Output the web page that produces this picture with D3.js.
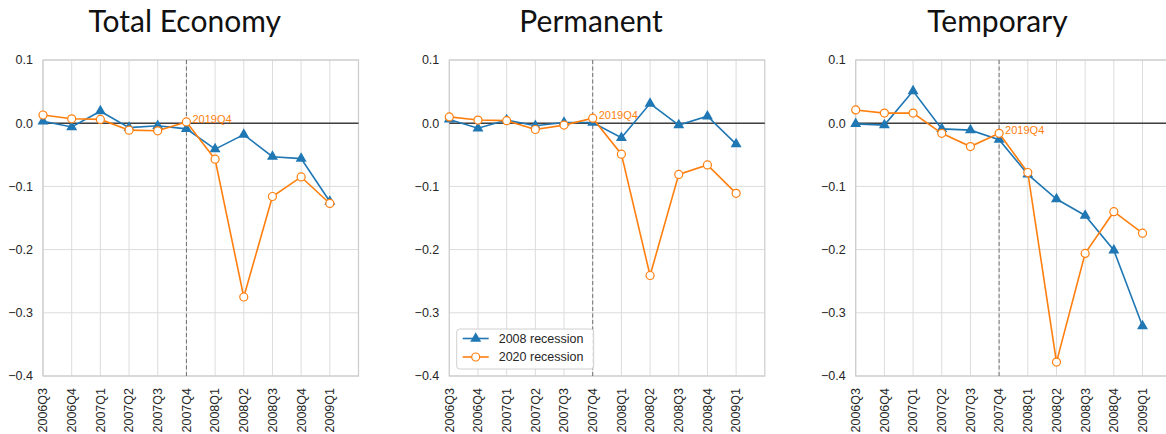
<!DOCTYPE html>
<html>
<head>
<meta charset="utf-8">
<script src="https://cdn.jsdelivr.net/npm/d3@7"></script>
<style>
  body { margin: 0; background: white; overflow: hidden; }
  text { font-family: "Liberation Sans", Arial, sans-serif; }
</style>
</head>
<body>
<div id="chart"></div>
<script>
// quarters on the x axis
const quarters = ["2006Q3", "2006Q4", "2007Q1", "2007Q2", "2007Q3", "2007Q4",
                  "2008Q1", "2008Q2", "2008Q3", "2008Q4", "2009Q1"];
const yTicks = [0.1, 0.0, -0.1, -0.2, -0.3, -0.4];
const titles = ["Total Economy", "Permanent", "Temporary"];
const seriesNames = ["2008 recession", "2020 recession"];

// 2008 recession (triangles)
const total2008 = [0.003, -0.006, 0.019, -0.007, -0.004, -0.009, -0.041, -0.018, -0.053, -0.056, -0.124];
const perm2008  = [0.006, -0.008, 0.005, -0.004, 0.001, 0.001, -0.023, 0.031, -0.003, 0.011, -0.033];
const temp2008  = [-0.001, -0.003, 0.051, -0.009, -0.011, -0.026, -0.081, -0.120, -0.146, -0.201, -0.321];

// 2020 recession (open circles)
const total2020 = [0.013, 0.007, 0.006, -0.011, -0.012, 0.002, -0.057, -0.275, -0.116, -0.085, -0.127];
const perm2020  = [0.010, 0.005, 0.004, -0.010, -0.003, 0.008, -0.049, -0.241, -0.081, -0.066, -0.111];
const temp2020  = [0.021, 0.016, 0.016, -0.016, -0.037, -0.016, -0.078, -0.378, -0.206, -0.140, -0.174];

const markIndex = 5;          // 2007Q4 <-> 2019Q4
const markLabel = "2019Q4";

const panels = [
  { title: titles[0], a: total2008, b: total2020 },
  { title: titles[1], a: perm2008, b: perm2020, legend: true },
  { title: titles[2], a: temp2008, b: temp2020 }
];

const blue = "#1f77b4", orange = "#ff7f0e";
const width = 1166, height = 434;
const svg = d3.select("#chart").append("svg")
    .attr("width", width).attr("height", height);

const pw = 315.5, plotTop = 60, plotBottom = 376;
const lefts = [43, 449.3, 855.7];

const x = d3.scaleLinear().domain([0, 11]).range([0, pw]);
const y = d3.scaleLinear().domain([-0.4, 0.1]).range([plotBottom - plotTop, 0]);

const tri = d3.symbol().type(d3.symbolTriangle).size(52);

panels.forEach((p, k) => {
  const g = svg.append("g").attr("transform", `translate(${lefts[k]},${plotTop})`);
  const h = plotBottom - plotTop;

  // grid
  g.selectAll(".vg").data(d3.range(quarters.length)).join("line")
      .attr("x1", d => x(d)).attr("x2", d => x(d))
      .attr("y1", 0).attr("y2", h)
      .attr("stroke", "#dcdcdc").attr("stroke-width", 1);
  g.selectAll(".hg").data(yTicks).join("line")
      .attr("x1", 0).attr("x2", pw)
      .attr("y1", d => y(d)).attr("y2", d => y(d))
      .attr("stroke", "#dcdcdc").attr("stroke-width", 1);
  g.append("rect").attr("width", pw).attr("height", h)
      .attr("fill", "none").attr("stroke", "#cccccc").attr("stroke-width", 1.2);

  // tick labels
  g.selectAll(".yt").data(yTicks).join("text")
      .attr("x", -10).attr("y", d => y(d)).attr("dy", "0.35em")
      .attr("text-anchor", "end").attr("font-size", 12.5).attr("fill", "#262626")
      .text(d => d3.format(".1f")(d).replace("-", "\u2212"));
  g.selectAll(".xt").data(quarters).join("text")
      .attr("transform", (d, i) => `translate(${x(i)},${h + 12}) rotate(-90)`)
      .attr("dy", "0.35em")
      .attr("text-anchor", "end").attr("font-size", 12.5).attr("fill", "#262626")
      .text(d => d);

  // reference lines
  g.append("line").attr("x1", 0).attr("x2", pw).attr("y1", y(0)).attr("y2", y(0))
      .attr("stroke", "#404040").attr("stroke-width", 1.6);
  g.append("line").attr("x1", x(markIndex)).attr("x2", x(markIndex))
      .attr("y1", 0).attr("y2", h)
      .attr("stroke", "#707070").attr("stroke-width", 1).attr("stroke-dasharray", "4,2.5");

  const line = d3.line().x((d, i) => x(i)).y(d => y(d));

  // 2008 series
  g.append("path").datum(p.a).attr("d", line)
      .attr("fill", "none").attr("stroke", blue).attr("stroke-width", 1.6);
  g.selectAll(".tri").data(p.a).join("path")
      .attr("d", tri)
      .attr("transform", (d, i) => `translate(${x(i)},${y(d)})`)
      .attr("fill", blue);

  // 2020 series
  g.append("path").datum(p.b).attr("d", line)
      .attr("fill", "none").attr("stroke", orange).attr("stroke-width", 1.6);
  g.selectAll(".circ").data(p.b).join("circle")
      .attr("cx", (d, i) => x(i)).attr("cy", d => y(d)).attr("r", 4)
      .attr("fill", "white").attr("stroke", orange).attr("stroke-width", 1.2);

  g.append("text")
      .attr("x", x(markIndex) + 6).attr("y", y(p.b[markIndex]) - 3).attr("dy", "0.35em")
      .attr("font-size", 11).attr("fill", orange)
      .text(markLabel);

  // title
  svg.append("text")
      .attr("x", lefts[k] + pw / 2 - 16).attr("y", 32)
      .attr("text-anchor", "middle")
      .attr("font-size", 30).attr("fill", "#111")
      .style("font-family", "Lato, sans-serif")
      .text(p.title);

  if (p.legend) {
    const lg = g.append("g").attr("transform", `translate(${456.7 - lefts[k]},${329 - plotTop})`);
    lg.append("rect").attr("width", 137).attr("height", 40).attr("rx", 3)
        .attr("fill", "white").attr("fill-opacity", 0.85)
        .attr("stroke", "#d0d0d0");
    seriesNames.forEach((name, j) => {
      const ry = 9.5 + j * 18.5;
      const col = j === 0 ? blue : orange;
      lg.append("line").attr("x1", 6).attr("x2", 32).attr("y1", ry).attr("y2", ry)
          .attr("stroke", col).attr("stroke-width", 1.6);
      if (j === 0) {
        lg.append("path").attr("d", tri).attr("transform", `translate(19,${ry})`).attr("fill", blue);
      } else {
        lg.append("circle").attr("cx", 19).attr("cy", ry).attr("r", 4)
            .attr("fill", "white").attr("stroke", orange).attr("stroke-width", 1.2);
      }
      lg.append("text").attr("x", 42).attr("y", ry).attr("dy", "0.35em")
          .attr("font-size", 12.5).attr("fill", "#262626").text(name);
    });
  }
});
</script>
</body>
</html>
